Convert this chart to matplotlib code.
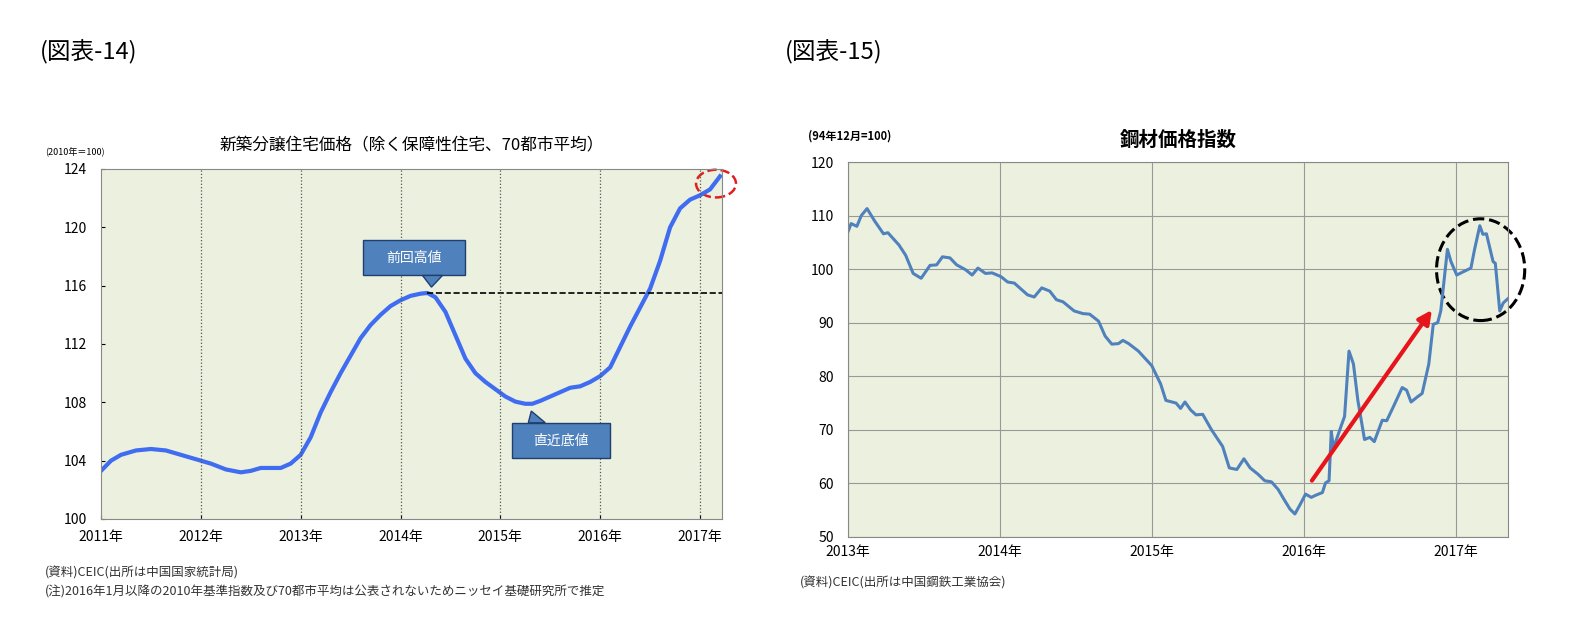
import matplotlib

matplotlib.use("Agg")
import matplotlib.pyplot as plt
from matplotlib.patches import Ellipse, FancyBboxPatch, Polygon

plt.rcParams["font.family"] = ["Noto Sans CJK JP", "DejaVu Sans"]

# left: new housing price index (2010=100)
house_t = [2011.0, 2011.1, 2011.2, 2011.35, 2011.5, 2011.65, 2011.8, 2012.0, 2012.1, 2012.25,
           2012.4, 2012.5, 2012.6, 2012.8, 2012.9, 2013.0, 2013.1, 2013.2, 2013.3, 2013.4,
           2013.5, 2013.6, 2013.7, 2013.8, 2013.9, 2014.0, 2014.1, 2014.2, 2014.27, 2014.35,
           2014.45, 2014.55, 2014.65, 2014.75, 2014.85, 2014.95, 2015.05, 2015.15, 2015.25, 2015.32,
           2015.4, 2015.5, 2015.6, 2015.7, 2015.8, 2015.9, 2016.0, 2016.1, 2016.2, 2016.3,
           2016.4, 2016.5, 2016.6, 2016.7, 2016.8, 2016.9, 2017.0, 2017.1, 2017.2]
house_v = [103.3, 104.0, 104.4, 104.7, 104.8, 104.7, 104.4, 104.0, 103.8, 103.4,
           103.2, 103.3, 103.5, 103.5, 103.8, 104.4, 105.6, 107.3, 108.7, 110.0,
           111.2, 112.4, 113.3, 114.0, 114.6, 115.0, 115.3, 115.45, 115.5, 115.2,
           114.2, 112.6, 111.0, 110.0, 109.4, 108.9, 108.4, 108.05, 107.9, 107.9,
           108.1, 108.4, 108.7, 109.0, 109.1, 109.4, 109.8, 110.4, 111.8, 113.2,
           114.5, 115.8, 117.7, 120.0, 121.3, 121.9, 122.2, 122.6, 123.5]
house_years = [2011, 2012, 2013, 2014, 2015, 2016, 2017]
house_yticks = [100, 104, 108, 112, 116, 120, 124]

# right: steel price index (Dec 1994=100)
steel_zx = [35, 42, 55, 65, 78, 95, 115, 125, 150, 165, 182, 200, 220, 235, 248, 265, 280, 300, 315, 328,
            345, 360, 380, 395, 410, 440, 455, 472, 490, 505, 520, 545, 565, 580, 600, 615, 630, 645, 655, 668,
            690, 720, 740, 752, 775, 785, 795, 808, 820, 835, 855, 880, 895, 912, 928, 942, 960, 975, 990, 1005,
            1020, 1032, 1043, 1055, 1067, 1080, 1090, 1105, 1112, 1120, 1125, 1130, 1148, 1155, 1165, 1175, 1185,
            1200, 1212, 1222, 1240, 1250, 1265, 1285, 1295, 1305, 1320, 1330, 1345, 1355, 1365, 1372, 1387, 1395,
            1408, 1420, 1440, 1448, 1460, 1467, 1475, 1490, 1495, 1505, 1513, 1525]
steel_v = [107.0, 108.5, 108.0, 110.0, 111.3, 109.0, 106.6, 106.8, 104.5, 102.6, 99.2, 98.3, 100.7, 100.8, 102.3,
           102.1, 100.8, 99.9, 98.9, 100.2, 99.2, 99.3, 98.6, 97.6, 97.4, 95.2, 94.8, 96.5, 95.9, 94.3,
           93.9, 92.2, 91.7, 91.6, 90.3, 87.5, 86.0, 86.1, 86.7, 86.1, 84.7, 82.0, 78.6, 75.5, 75.0, 74.0,
           75.2, 73.7, 72.8, 72.9, 70.0, 66.9, 62.9, 62.6, 64.6, 62.9, 61.7, 60.5, 60.3, 58.9, 56.8, 55.2,
           54.3, 56.1, 58.0, 57.4, 57.8, 58.3, 60.1, 60.5, 69.7, 66.6, 70.9, 72.5, 84.7, 82.3, 75.5, 68.2,
           68.6, 67.8, 71.8, 71.7, 74.3, 77.9, 77.4, 75.2, 76.2, 76.8, 82.3, 89.7, 90.0, 92.2, 103.7, 101.4,
           98.9, 99.4, 100.2, 103.6, 108.1, 106.5, 106.6, 101.4, 101.1, 92.2, 93.7, 94.6]
steel_t = [2013 + (zx - 35) / 343 for zx in steel_zx]
steel_years = [2013, 2014, 2015, 2016, 2017]
steel_yticks = [50, 60, 70, 80, 90, 100, 110, 120]

W, H = 1582, 631
fig = plt.figure(figsize=(W / 100, H / 100), dpi=100)
bg = "#EBF1DE"


def box(x0, y0, x1, y1):
    return [x0 / W, 1 - y1 / H, (x1 - x0) / W, (y1 - y0) / H]


fig.text(40 / W, 1 - 52 / H, "(図表-14)", fontsize=17, va="center")
fig.text(785 / W, 1 - 52 / H, "(図表-15)", fontsize=17, va="center")

# ---- left chart
ax = fig.add_axes(box(101, 169, 722, 519))
ax.set_facecolor(bg)
ax.plot(house_t, house_v, color="#3F6CF0", linewidth=3)
ax.plot([2014.27, 2017.25], [115.5, 115.5], color="black", linestyle="--", linewidth=1.2)
ax.set_xlim(2011, 2017.22)
ax.set_ylim(100, 124)
ax.set_yticks(house_yticks)
ax.set_xticks(house_years)
ax.set_xticklabels([f"{y}年" for y in house_years], fontsize=10)
ax.tick_params(labelsize=10, length=3, direction="in")
ax.tick_params(axis="x", pad=8)
ax.tick_params(axis="y", pad=10)
for y in house_years[1:]:
    ax.axvline(y, color="#555555", linestyle=":", linewidth=0.9)
for s in ax.spines.values():
    s.set_color("#888888")
ax.set_title("新築分譲住宅価格（除く保障性住宅、70都市平均）", fontsize=12, pad=14)
ax.text(-0.09, 1.04, "(2010年＝100)", transform=ax.transAxes, fontsize=6.5)
ax.add_patch(Ellipse((2017.16, 123.0), 0.4, 1.9, fill=False, edgecolor="#E02020",
                     linestyle="--", linewidth=1.8, clip_on=False))


def callout(axis, x0, y0, x1, y1, tip, text):
    axis.add_patch(FancyBboxPatch((x0, y0), x1 - x0, y1 - y0, boxstyle="square,pad=0",
                                  facecolor="#4F81BD", edgecolor="#1F3F6F", linewidth=1,
                                  transform=axis.transData, zorder=5))
    axis.add_patch(Polygon(tip, closed=True, facecolor="#4F81BD", edgecolor="#1F3F6F",
                           linewidth=1, zorder=5))
    axis.text((x0 + x1) / 2, (y0 + y1) / 2, text, color="white", fontsize=10,
              ha="center", va="center", zorder=6)


callout(ax, 2013.62, 116.7, 2014.65, 119.1,
        [(2014.22, 116.7), (2014.31, 115.9), (2014.42, 116.7)], "前回高値")
callout(ax, 2015.12, 104.2, 2016.1, 106.6,
        [(2015.28, 106.6), (2015.31, 107.4), (2015.45, 106.6)], "直近底値")

fig.text(45 / W, 1 - 573 / H, "(資料)CEIC(出所は中国国家統計局)", fontsize=9, color="#333333", va="center")
fig.text(45 / W, 1 - 592 / H, "(注)2016年1月以降の2010年基準指数及び70都市平均は公表されないためニッセイ基礎研究所で推定",
         fontsize=9, color="#333333", va="center")

# ---- right chart
ax2 = fig.add_axes(box(848, 162, 1508, 537))
ax2.set_facecolor(bg)
ax2.plot(steel_t, steel_v, color="#4F81BD", linewidth=2.2)
ax2.set_xlim(2013, 2017.34)
ax2.set_ylim(50, 120)
ax2.set_yticks(steel_yticks)
ax2.set_xticks(steel_years)
ax2.set_xticklabels([f"{y}年" for y in steel_years], fontsize=10)
ax2.tick_params(labelsize=10, length=0)
ax2.tick_params(axis="x", pad=6)
ax2.tick_params(axis="y", pad=10)
ax2.grid(True, color="#999999", linewidth=0.8)
for s in ax2.spines.values():
    s.set_color("#888888")
ax2.set_title("鋼材価格指数", fontsize=14, fontweight="bold", pad=12)
ax2.text(-0.06, 1.06, "(94年12月=100)", transform=ax2.transAxes, fontsize=8, fontweight="bold")
ax2.annotate("", xy=(2016.85, 92.8), xytext=(2016.04, 60.1),
             arrowprops=dict(arrowstyle="-|>,head_width=0.4,head_length=0.8", color="#E8141B", linewidth=3))
ax2.add_patch(Ellipse((2017.16, 99.9), 0.58, 19, fill=False, edgecolor="black",
                      linestyle="--", linewidth=2.2, clip_on=False))
fig.text(800 / W, 1 - 583 / H, "(資料)CEIC(出所は中国鋼鉄工業協会)", fontsize=9, color="#333333", va="center")

fig.savefig("out.png", dpi=100)
